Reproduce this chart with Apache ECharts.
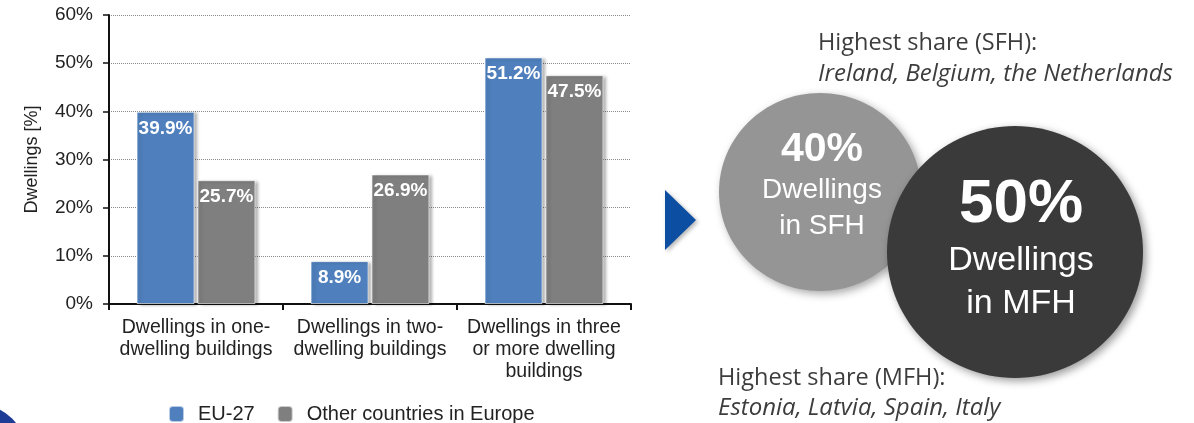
<!DOCTYPE html>
<html>
<head>
<meta charset="utf-8">
<script src="https://cdn.jsdelivr.net/npm/echarts@6/dist/echarts.min.js"></script>
<style>
  html, body { margin: 0; padding: 0; background: #fff; }
  #chart { width: 1194px; height: 423px; }
</style>
</head>
<body>
<div id="chart"></div>
<script>
// Dwelling stock by building type
const categories = [
  'Dwellings in one-\ndwelling buildings',
  'Dwellings in two-\ndwelling buildings',
  'Dwellings in three\nor more dwelling\nbuildings'
];
const seriesNames = ['EU-27', 'Other countries in Europe'];
const eu27 = [39.9, 8.9, 51.2];
const otherEurope = [25.7, 26.9, 47.5];

// Headline shares shown in the two bubbles
const sfhShare = 40;
const mfhShare = 50;
const sfhCountries = 'Ireland, Belgium, the Netherlands';
const mfhCountries = 'Estonia, Latvia, Spain, Italy';

const chartFont = 'Liberation Sans, Arial, sans-serif';
const noteFont = 'Open Sans, sans-serif';
const noteColor = '#3d3d3d';

const barShadow = {
  shadowColor: 'rgba(0,0,0,0.32)',
  shadowBlur: 3,
  shadowOffsetX: 3,
  shadowOffsetY: 1,
  borderColor: 'rgba(255,255,255,0.6)',
  borderWidth: 1
};

const barLabel = {
  show: true,
  position: 'insideTop',
  distance: 7,
  color: '#fff',
  fontFamily: chartFont,
  fontWeight: 'bold',
  fontSize: 19,
  formatter: p => p.value.toFixed(1) + '%'
};

function centeredText(text, x, y, font, fill) {
  return {
    type: 'text', x: x, y: y, z: 20,
    style: {
      text: text, font: font, fill: fill,
      align: 'center', verticalAlign: 'middle',
      textAlign: 'center', textVerticalAlign: 'middle'
    }
  };
}
function leftText(text, x, y, font, fill) {
  return {
    type: 'text', x: x, y: y, z: 20,
    style: {
      text: text, font: font, fill: fill,
      align: 'left', verticalAlign: 'middle',
      textAlign: 'left', textVerticalAlign: 'middle'
    }
  };
}

const chart = echarts.init(document.getElementById('chart'), null, { renderer: 'canvas' });

chart.setOption({
  animation: false,
  backgroundColor: '#fff',
  textStyle: { fontFamily: chartFont },
  grid: { left: 109, right: 563, top: 15, bottom: 119, containLabel: false },
  legend: {
    data: seriesNames,
    left: 163,
    top: 399,
    itemWidth: 15,
    itemHeight: 16,
    itemGap: 22,
    textStyle: { fontFamily: chartFont, fontSize: 20, color: '#222', padding: [0, 0, 0, 9] }
  },
  xAxis: {
    type: 'category',
    data: categories,
    axisLine: { lineStyle: { color: '#111', width: 2 } },
    axisTick: { show: true, length: 6, lineStyle: { color: '#111', width: 2 } },
    axisLabel: {
      margin: 13,
      fontFamily: chartFont,
      fontSize: 19.5,
      lineHeight: 22,
      color: '#222',
      interval: 0
    }
  },
  yAxis: {
    type: 'value',
    min: 0,
    max: 60,
    interval: 10,
    name: 'Dwellings [%]',
    nameLocation: 'middle',
    nameGap: 68,
    nameTextStyle: { fontFamily: chartFont, fontSize: 18, color: '#222' },
    axisLine: { show: true, lineStyle: { color: '#111', width: 2 } },
    axisTick: { show: true, length: 6, lineStyle: { color: '#111', width: 1.5 } },
    axisLabel: {
      margin: 16,
      fontFamily: chartFont,
      fontSize: 19,
      color: '#222',
      formatter: '{value}%'
    },
    splitLine: { show: true, lineStyle: { type: 'dotted', color: '#8a8a8a', width: 1 } }
  },
  series: [
    {
      name: seriesNames[0],
      type: 'bar',
      data: eu27,
      barWidth: 58,
      barGap: '5%',
      itemStyle: Object.assign({ color: '#4f80bd' }, barShadow),
      label: barLabel
    },
    {
      name: seriesNames[1],
      type: 'bar',
      data: otherEurope,
      barWidth: 58,
      barGap: '5%',
      itemStyle: Object.assign({ color: '#7f7f7f' }, barShadow),
      label: barLabel
    }
  ],
  graphic: [
    // corner badge
    {
      type: 'circle', z: 5,
      shape: { cx: -20, cy: 450, r: 45 },
      style: { fill: '#1e3c96' }
    },
    // pointer arrow
    {
      type: 'polygon', z: 5,
      shape: { points: [[665, 190], [696, 220], [665, 250]] },
      style: {
        fill: '#0b4ea2',
        shadowColor: 'rgba(0,0,0,0.3)', shadowBlur: 4, shadowOffsetX: 2, shadowOffsetY: 2
      }
    },
    // single-family bubble
    {
      type: 'ellipse', z: 10,
      shape: { cx: 820, cy: 192, rx: 101, ry: 99 },
      style: {
        fill: '#959595',
        shadowColor: 'rgba(0,0,0,0.35)', shadowBlur: 8, shadowOffsetX: 3, shadowOffsetY: 3
      }
    },
    // multi-family bubble
    {
      type: 'ellipse', z: 11,
      shape: { cx: 1015, cy: 252, rx: 128, ry: 126 },
      style: {
        fill: '#3a3a3a',
        shadowColor: 'rgba(0,0,0,0.4)', shadowBlur: 8, shadowOffsetX: 3, shadowOffsetY: 3
      }
    },
    centeredText(sfhShare + '%', 822, 150, 'bold 41px ' + chartFont, '#fff'),
    centeredText('Dwellings', 822, 190, '28px ' + chartFont, '#fff'),
    centeredText('in SFH', 822, 226, '28px ' + chartFont, '#fff'),
    centeredText(mfhShare + '%', 1021, 205, 'bold 62px ' + chartFont, '#fff'),
    centeredText('Dwellings', 1021, 261, '34px ' + chartFont, '#fff'),
    centeredText('in MFH', 1021, 304, '34px ' + chartFont, '#fff'),
    leftText('Highest share (SFH):', 818, 43, '23.5px ' + noteFont, noteColor),
    leftText(sfhCountries, 818, 74, 'italic 24px ' + noteFont, noteColor),
    leftText('Highest share (MFH):', 718, 378, '23.5px ' + noteFont, noteColor),
    leftText(mfhCountries, 718, 408, 'italic 24px ' + noteFont, noteColor)
  ]
});
</script>
</body>
</html>
